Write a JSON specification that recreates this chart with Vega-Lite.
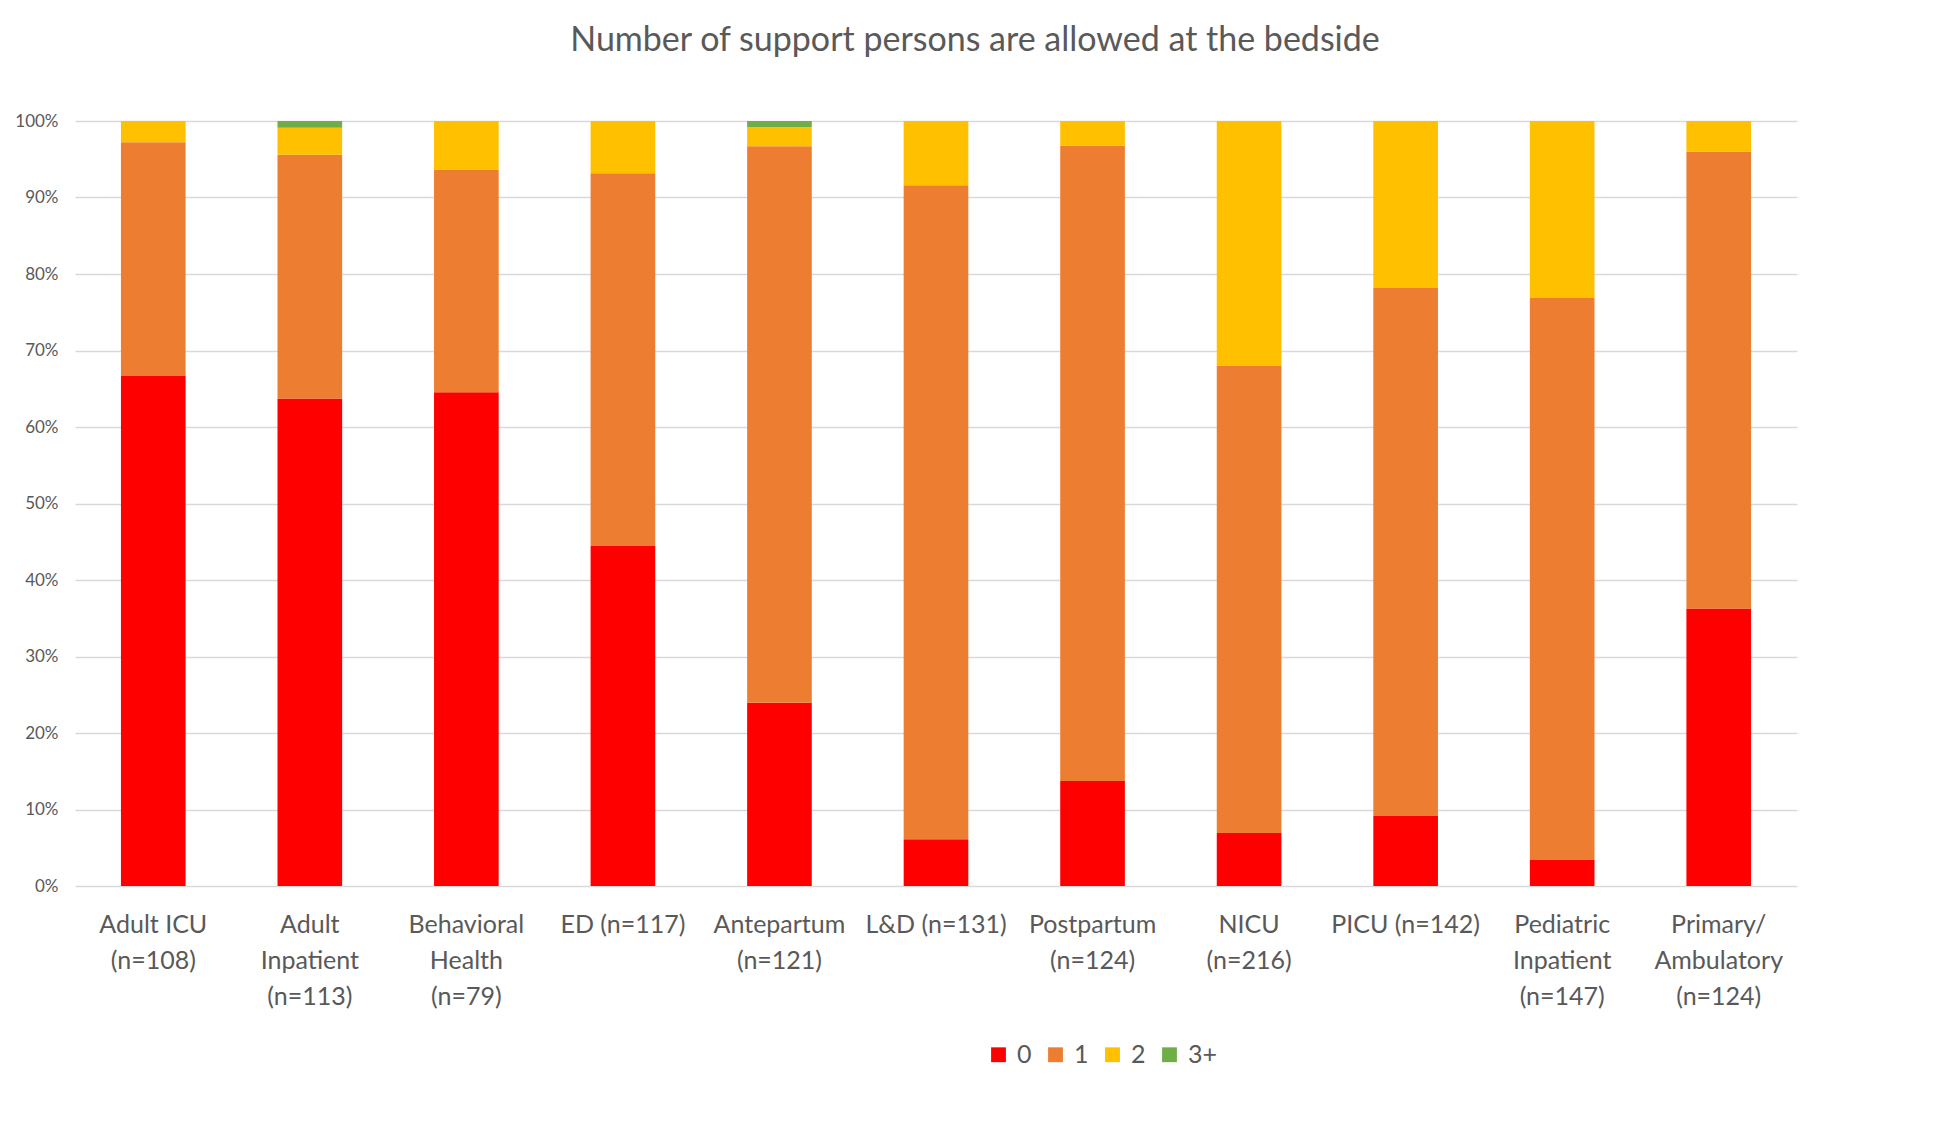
{
  "$schema": "https://vega.github.io/schema/vega-lite/v6.json",
  "autosize": {"type": "none"},
  "padding": {"left": 75, "top": 121, "right": 152, "bottom": 239},
  "width": 1722,
  "height": 765,
  "background": "white",
  "title": {
    "text": "Number of support persons are allowed at the bedside",
    "font": "Lato",
    "fontSize": 34,
    "fontWeight": "normal",
    "color": "#595959",
    "anchor": "middle",
    "dx": 39,
    "offset": 54
  },
  "data": {
    "values": [
      {"unit": "Adult ICU|(n=108)", "persons": "0", "count": 72},
      {"unit": "Adult ICU|(n=108)", "persons": "1", "count": 33},
      {"unit": "Adult ICU|(n=108)", "persons": "2", "count": 3},
      {"unit": "Adult ICU|(n=108)", "persons": "3+", "count": 0},
      {"unit": "Adult|Inpatient|(n=113)", "persons": "0", "count": 72},
      {"unit": "Adult|Inpatient|(n=113)", "persons": "1", "count": 36},
      {"unit": "Adult|Inpatient|(n=113)", "persons": "2", "count": 4},
      {"unit": "Adult|Inpatient|(n=113)", "persons": "3+", "count": 1},
      {"unit": "Behavioral|Health|(n=79)", "persons": "0", "count": 51},
      {"unit": "Behavioral|Health|(n=79)", "persons": "1", "count": 23},
      {"unit": "Behavioral|Health|(n=79)", "persons": "2", "count": 5},
      {"unit": "Behavioral|Health|(n=79)", "persons": "3+", "count": 0},
      {"unit": "ED (n=117)", "persons": "0", "count": 52},
      {"unit": "ED (n=117)", "persons": "1", "count": 57},
      {"unit": "ED (n=117)", "persons": "2", "count": 8},
      {"unit": "ED (n=117)", "persons": "3+", "count": 0},
      {"unit": "Antepartum|(n=121)", "persons": "0", "count": 29},
      {"unit": "Antepartum|(n=121)", "persons": "1", "count": 88},
      {"unit": "Antepartum|(n=121)", "persons": "2", "count": 3},
      {"unit": "Antepartum|(n=121)", "persons": "3+", "count": 1},
      {"unit": "L&D (n=131)", "persons": "0", "count": 8},
      {"unit": "L&D (n=131)", "persons": "1", "count": 112},
      {"unit": "L&D (n=131)", "persons": "2", "count": 11},
      {"unit": "L&D (n=131)", "persons": "3+", "count": 0},
      {"unit": "Postpartum|(n=124)", "persons": "0", "count": 17},
      {"unit": "Postpartum|(n=124)", "persons": "1", "count": 103},
      {"unit": "Postpartum|(n=124)", "persons": "2", "count": 4},
      {"unit": "Postpartum|(n=124)", "persons": "3+", "count": 0},
      {"unit": "NICU|(n=216)", "persons": "0", "count": 15},
      {"unit": "NICU|(n=216)", "persons": "1", "count": 132},
      {"unit": "NICU|(n=216)", "persons": "2", "count": 69},
      {"unit": "NICU|(n=216)", "persons": "3+", "count": 0},
      {"unit": "PICU (n=142)", "persons": "0", "count": 13},
      {"unit": "PICU (n=142)", "persons": "1", "count": 98},
      {"unit": "PICU (n=142)", "persons": "2", "count": 31},
      {"unit": "PICU (n=142)", "persons": "3+", "count": 0},
      {"unit": "Pediatric|Inpatient|(n=147)", "persons": "0", "count": 5},
      {"unit": "Pediatric|Inpatient|(n=147)", "persons": "1", "count": 108},
      {"unit": "Pediatric|Inpatient|(n=147)", "persons": "2", "count": 34},
      {"unit": "Pediatric|Inpatient|(n=147)", "persons": "3+", "count": 0},
      {"unit": "Primary/|Ambulatory|(n=124)", "persons": "0", "count": 45},
      {"unit": "Primary/|Ambulatory|(n=124)", "persons": "1", "count": 74},
      {"unit": "Primary/|Ambulatory|(n=124)", "persons": "2", "count": 5},
      {"unit": "Primary/|Ambulatory|(n=124)", "persons": "3+", "count": 0}
    ]
  },
  "mark": {"type": "bar"},
  "encoding": {
    "x": {
      "field": "unit",
      "type": "nominal",
      "sort": null,
      "scale": {"paddingInner": 0.587, "paddingOuter": 0.2935},
      "axis": {
        "title": null,
        "labelAngle": 0,
        "labelExpr": "split(datum.label, '|')",
        "labelFont": "Lato",
        "labelFontSize": 25,
        "labelLineHeight": 36,
        "labelColor": "#595959",
        "labelPadding": 26,
        "labelBaseline": "top",
        "ticks": false,
        "domain": false,
        "labelLimit": 300
      }
    },
    "y": {
      "field": "count",
      "type": "quantitative",
      "stack": "normalize",
      "scale": {"domain": [0, 1], "nice": false},
      "axis": {
        "title": null,
        "format": ".0%",
        "values": [0, 0.1, 0.2, 0.3, 0.4, 0.5, 0.6, 0.7, 0.8, 0.9, 1],
        "labelFont": "Lato",
        "labelFontSize": 17,
        "labelColor": "#595959",
        "labelPadding": 17,
        "ticks": false,
        "domain": false,
        "grid": true,
        "gridColor": "#D9D9D9",
        "gridWidth": 1.5
      }
    },
    "color": {
      "field": "persons",
      "type": "nominal",
      "scale": {
        "domain": ["0", "1", "2", "3+"],
        "range": ["#FF0000", "#ED7D31", "#FFC000", "#70AD47"]
      },
      "legend": {
        "title": null,
        "orient": "none",
        "direction": "horizontal",
        "legendX": 911,
        "legendY": 921,
        "symbolType": "square",
        "symbolSize": 220,
        "symbolStrokeWidth": 0,
        "symbolOpacity": 1,
        "labelFont": "Lato",
        "labelFontSize": 25,
        "labelColor": "#595959",
        "labelOffset": 6,
        "columnPadding": 11
      }
    },
    "order": {"field": "persons", "sort": "ascending"}
  },
  "config": {
    "view": {"stroke": null}
  }
}
